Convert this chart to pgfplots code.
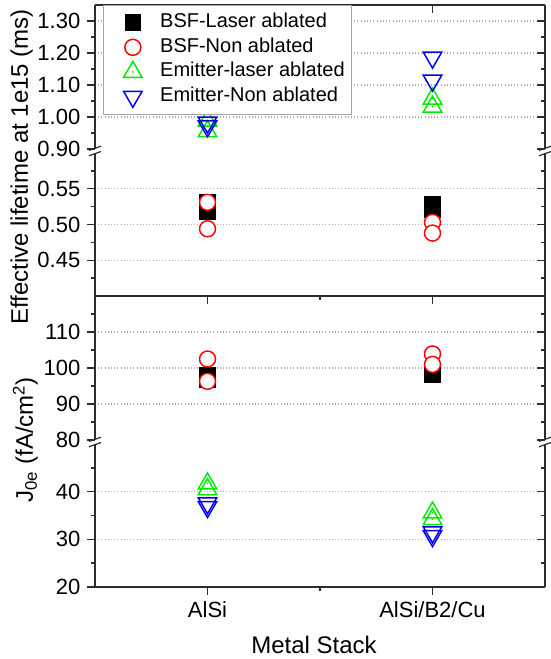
\documentclass[border=0pt]{standalone}
\usepackage{fontspec}
\setmainfont{Liberation Sans}
\usepackage{pgfplots}
\pgfplotsset{compat=1.18}

\definecolor{ored}{RGB}{255,0,0}
\definecolor{ogreen}{RGB}{0,235,0}
\definecolor{oblue}{RGB}{0,0,240}
\definecolor{fr}{RGB}{45,45,45}

% open triangle with a small dot in the middle (Origin style)
\pgfdeclareplotmark{tridot}{%
  \pgfuseplotmark{triangle}%
  \pgfpathcircle{\pgfpointorigin}{0.7pt}%
  \pgfusepathqfill
}

\pgfplotsset{
  base/.style={scale only axis, width=337.5pt, xmin=0.5, xmax=2.5,
    axis line style={fr, line width=1.1pt},
    every tick/.style={fr, line width=1.1pt},
    major tick length=6pt, minor tick length=3.2pt,
    tick label style={font=\fontsize{16.5}{19}\selectfont},
    /pgf/number format/assume math mode=true},
  seg/.style={base, axis x line=none, axis y line=box, ytick pos=left,
    tick align=outside, ymajorgrids, yticklabel style={xshift=-1.5pt},
    grid style={gray!65, dotted, line width=0.9pt},
    extra y tick style={grid=none}, clip=false},
  mirr/.style={base, axis x line=none, axis y line=box, ytick pos=right,
    tick align=inside, yticklabels={}, extra y tick labels={}},
  two/.style={yticklabel style={/pgf/number format/.cd, fixed, fixed zerofill, precision=2}},
  bsfl/.style={only marks, black, mark=square*, mark size=5.6pt, line width=1.1pt},
  bsfn/.style={only marks, ored, mark=*, mark size=6pt, line width=1.1pt, mark options={fill=white}},
  emil/.style={only marks, ogreen, mark=tridot, mark size=8pt, line width=1.1pt},
  emin/.style={only marks, oblue, mark=triangle, mark size=8pt, line width=1.1pt, mark options={rotate=180}},
}

\begin{document}
\begin{tikzpicture}
\useasboundingbox (0,0) rectangle (412.5pt,494.25pt);

% ---------- top panel: effective lifetime ----------
\begin{axis}[base, at={(71.25pt,272.25pt)}, height=218.25pt, ymin=0, ymax=1,
  axis x line=box, axis y line=none, xtick={1,2}, minor xtick={1.5},
  xtick pos=right, tick align=inside, xticklabels={}]
\end{axis}

% lower part 0.40 - 0.60
\begin{axis}[seg, two, at={(71.25pt,272.25pt)}, height=107.25pt, ymin=0.40, ymax=0.60,
  ytick={0.45,0.50,0.55}, minor ytick={0.425,0.475,0.525,0.575}]
\addplot[bsfl] coordinates {(1,0.531) (1,0.518) (2,0.528) (2,0.520)};
\addplot[bsfn] coordinates {(1,0.531) (1,0.494) (2,0.503) (2,0.488)};
\end{axis}
\begin{axis}[mirr, at={(71.25pt,272.25pt)}, height=107.25pt, ymin=0.40, ymax=0.60,
  ytick={0.45,0.50,0.55}, minor ytick={0.425,0.475,0.525,0.575}]
\end{axis}

% upper part 0.90 - 1.35
\begin{axis}[seg, two, at={(71.25pt,382.5pt)}, height=108pt, ymin=0.90, ymax=1.35,
  ytick={1.0,1.1,1.2,1.3}, minor ytick={0.95,1.05,1.15,1.25}, extra y ticks={0.9},
  legend style={at={(0.018,1.0)}, anchor=north west, draw=gray!70, line width=0.6pt,
    font=\fontsize{15}{17}\selectfont, inner xsep=3pt, inner ysep=4.2pt,
    row sep=1.0pt, nodes={inner sep=2pt, text height=10.5pt, text depth=3pt}},
  legend cell align=left,
  legend image code/.code={\path[draw=none,fill=none] (0pt,0pt) -- (37.5pt,0pt); \draw[#1] plot coordinates {(19pt,0pt)};}]
\addlegendimage{bsfl}\addlegendentry{BSF-Laser ablated}
\addlegendimage{bsfn}\addlegendentry{BSF-Non ablated}
\addlegendimage{emil}\addlegendentry{Emitter-laser ablated}
\addlegendimage{emin}\addlegendentry{Emitter-Non ablated}
\addplot[emil] coordinates {(1,0.988) (1,0.955) (2,1.057) (2,1.032)};
\addplot[emin] coordinates {(1,0.983) (1,0.971) (2,1.186) (2,1.114)};
\end{axis}
\begin{axis}[mirr, at={(71.25pt,382.5pt)}, height=108pt, ymin=0.90, ymax=1.35,
  ytick={1.0,1.1,1.2,1.3}, minor ytick={0.95,1.05,1.15,1.25}, extra y ticks={0.9}]
\end{axis}

% ---------- bottom panel: J0e ----------
\begin{axis}[base, at={(71.25pt,54pt)}, height=218.25pt, ymin=0, ymax=1,
  axis x line=box, axis y line=none, xtick={1,2}, minor xtick={1.5},
  xtick pos=right, tick align=inside, xticklabels={}]
\end{axis}
\begin{axis}[base, at={(71.25pt,54pt)}, height=218.25pt, ymin=0, ymax=1,
  axis x line=box, axis y line=none, xtick={1,2}, minor xtick={1.5},
  xtick pos=left, tick align=outside, xticklabels={AlSi,AlSi/B2/Cu},
  xticklabel style={anchor=base, yshift=-17pt}]
\end{axis}

% upper part 80 - 120
\begin{axis}[seg, at={(71.25pt,164.25pt)}, height=108pt, ymin=80, ymax=120,
  ytick={90,100,110}, minor ytick={85,95,105,115}, extra y ticks={80}]
\addplot[bsfl] coordinates {(1,98.0) (1,96.6) (2,98.0) (2,99.5)};
\addplot[bsfn] coordinates {(1,102.5) (1,96.3) (2,103.9) (2,101.0)};
\end{axis}
\begin{axis}[mirr, at={(71.25pt,164.25pt)}, height=108pt, ymin=80, ymax=120,
  ytick={90,100,110}, minor ytick={85,95,105,115}, extra y ticks={80}]
\end{axis}

% lower part 20 - 50
\begin{axis}[seg, at={(71.25pt,54pt)}, height=107.25pt, ymin=20, ymax=50,
  ytick={30,40}, minor ytick={25,35,45}, extra y ticks={20}]
\addplot[emil] coordinates {(1,41.7) (1,40.5) (2,35.6) (2,34.2)};
\addplot[emin] coordinates {(1,37.6) (1,36.8) (2,31.5) (2,30.7)};
\end{axis}
\begin{axis}[mirr, at={(71.25pt,54pt)}, height=107.25pt, ymin=20, ymax=50,
  ytick={30,40}, minor ytick={25,35,45}, extra y ticks={20}]
\end{axis}

% axis break marks
\foreach \xx in {71.25pt,408.75pt}{
  \foreach \yy in {381pt,162.75pt}{
    \draw[fr, line width=0.9pt] ([xshift=-4.5pt,yshift=-3.6pt]\xx,\yy) -- ([xshift=4.5pt,yshift=-0.4pt]\xx,\yy);
    \draw[fr, line width=0.9pt] ([xshift=-4.5pt,yshift=0.4pt]\xx,\yy) -- ([xshift=4.5pt,yshift=3.6pt]\xx,\yy);
  }
}

% axis titles
\node[rotate=90, anchor=base, font=\fontsize{18}{21}\selectfont] at (21pt,369pt) {Effective lifetime at 1e15 (ms)};
\node[rotate=90, anchor=base, font=\fontsize{18}{21}\selectfont] at (24.75pt,164.25pt) {J\textsubscript{0e} (fA/cm\textsuperscript{2})};
\node[anchor=base, font=\fontsize{18}{21}\selectfont] at (235.5pt,4.5pt) {Metal Stack};
\end{tikzpicture}
\end{document}
